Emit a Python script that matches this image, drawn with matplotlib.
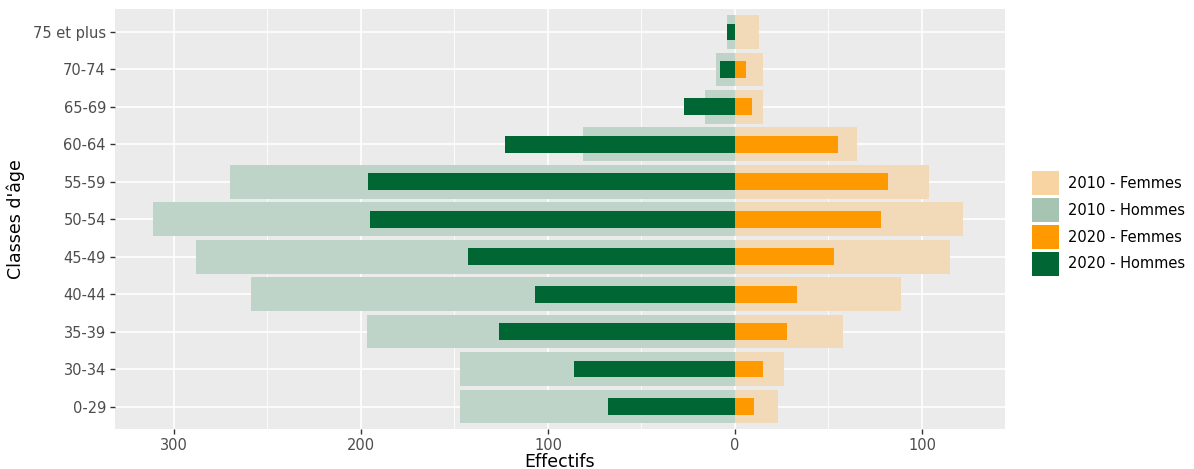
import matplotlib
matplotlib.use('Agg')
import matplotlib.pyplot as plt
from matplotlib.patches import Patch
from matplotlib.ticker import MultipleLocator, FuncFormatter
import numpy as np

# classes d'âge (du bas vers le haut)
classes = ['0-29', '30-34', '35-39', '40-44', '45-49', '50-54',
           '55-59', '60-64', '65-69', '70-74', '75 et plus']

# effectifs
hommes_2010 = [147, 147, 197, 259, 288, 311, 270, 81, 16, 10, 4]
femmes_2010 = [23, 26, 58, 89, 115, 122, 104, 65, 15, 15, 13]
hommes_2020 = [68, 86, 126, 107, 143, 195, 196, 123, 27, 8, 4]
femmes_2020 = [10, 15, 28, 33, 53, 78, 82, 55, 9, 6, 0]

legende = ['2010 - Femmes', '2010 - Hommes', '2020 - Femmes', '2020 - Hommes']
couleurs_barres = ['#F2DAB8', '#BFD4C8', '#FF9900', '#006633']
couleurs_legende = ['#F8D4A2', '#A5C5B2', '#FF9900', '#006633']

plt.rcParams['font.family'] = ['DejaVu Sans']

fig = plt.figure(figsize=(11.94, 4.69), dpi=100)
ax = fig.add_axes([115 / 1194, 1 - 429 / 469, 890 / 1194, 419.5 / 469])

y = np.arange(len(classes))

# 2010 en fond, barres larges
ax.barh(y, femmes_2010, height=0.9, color=couleurs_barres[0], zorder=2)
ax.barh(y, -np.array(hommes_2010), height=0.9, color=couleurs_barres[1], zorder=2)
# 2020 par-dessus, barres étroites
ax.barh(y, femmes_2020, height=0.45, color=couleurs_barres[2], zorder=3)
ax.barh(y, -np.array(hommes_2020), height=0.45, color=couleurs_barres[3], zorder=3)

# style ggplot
ax.set_facecolor('#EBEBEB')
for s in ax.spines.values():
    s.set_visible(False)

ax.set_xlim(-331.5, 144.4)
ax.set_ylim(-0.6, len(classes) - 0.4)
ax.xaxis.set_major_locator(MultipleLocator(100))
ax.xaxis.set_minor_locator(MultipleLocator(50))
ax.xaxis.set_major_formatter(FuncFormatter(lambda v, p: '%d' % abs(v)))
ax.set_yticks(y)
ax.set_yticklabels(classes)

ax.grid(which='major', color='white', linewidth=1.2, zorder=0)
ax.grid(which='minor', axis='x', color='white', linewidth=0.6, zorder=0)
ax.set_axisbelow(True)

ax.tick_params(which='major', length=3.5, width=1, color='#333333',
               labelcolor='#4D4D4D', labelsize=10.5, pad=3)
ax.tick_params(which='minor', length=0)

ax.set_xlabel('Effectifs', fontsize=12.5, labelpad=0)
ax.set_ylabel("Classes d'âge", fontsize=12.5, labelpad=6)

# légende
poignees = [Patch(facecolor=c, edgecolor='none') for c in couleurs_legende]
fig.legend(poignees, legende, loc='center left',
           bbox_to_anchor=(1032 / 1194, 1 - 223.5 / 469),
           frameon=False, fontsize=10.5, handlelength=1.85, handleheight=2.15,
           labelspacing=0.2, handletextpad=0.65, borderpad=0, borderaxespad=0)

plt.savefig('out.png', dpi=100)
